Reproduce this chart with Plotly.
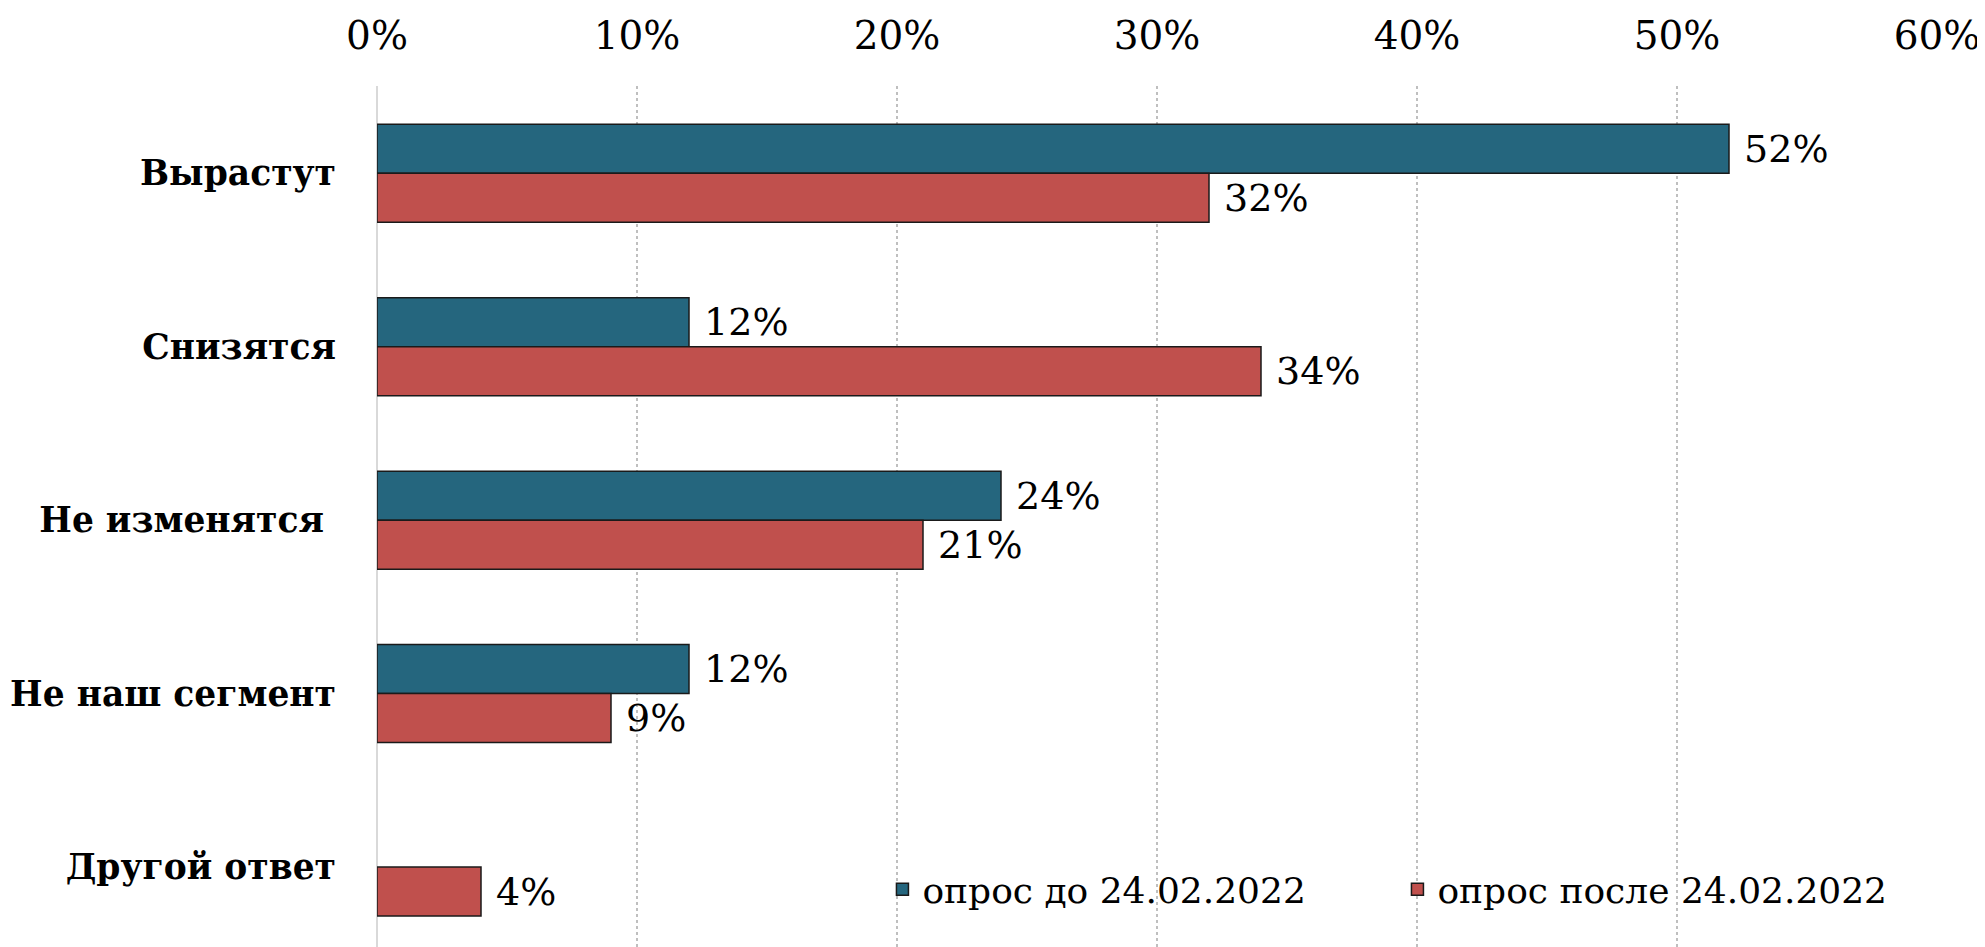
import plotly.graph_objects as go

categories = ["Вырастут", "Снизятся", "Не изменятся\u00a0", "Не наш сегмент", "Другой ответ"]
before = [0.52, 0.12, 0.24, 0.12, None]
after = [0.32, 0.34, 0.21, 0.09, 0.04]
series_names = ["опрос до 24.02.2022", "опрос после 24.02.2022"]
x_ticks = [0, 0.1, 0.2, 0.3, 0.4, 0.5, 0.6]

FONT = "DejaVu Serif"
BLUE = "#25667e"
RED = "#c0504d"

fig = go.Figure()
for name, vals, color in [(series_names[0], before, BLUE), (series_names[1], after, RED)]:
    fig.add_trace(go.Bar(
        y=categories,
        x=vals,
        name=name,
        orientation="h",
        marker=dict(color=color, line=dict(color="#1a1a1a", width=1.5)),
        texttemplate="\u00a0%{x:.0%}",
        textposition="outside",
        cliponaxis=False,
        textfont=dict(family=FONT, size=38, color="black"),
    ))

# page body has an 8px margin, so the figure is offset by 8px
fig.update_layout(
    width=1977,
    height=939,
    margin=dict(l=369, r=48, t=78, b=0),
    paper_bgcolor="white",
    plot_bgcolor="white",
    barmode="group",
    bargap=0.435,
    bargroupgap=0,
    font=dict(family=FONT, color="black"),
    legend=dict(
        orientation="h",
        x=0.324,
        y=0.067,
        xanchor="left",
        yanchor="middle",
        entrywidth=470,
        font=dict(family=FONT, size=36, color="black"),
        bgcolor="rgba(0,0,0,0)",
        traceorder="normal",
    ),
    xaxis=dict(
        side="top",
        range=[0, 0.6],
        tickvals=x_ticks,
        tickformat=".0%",
        tickfont=dict(family=FONT, size=39, color="black"),
        showgrid=True,
        gridcolor="#bfbfbf",
        griddash="dot",
        gridwidth=2,
        zeroline=True,
        zerolinecolor="#d9d9d9",
        zerolinewidth=2,
        ticks="",
        ticklabelstandoff=28,
        showline=False,
    ),
    yaxis=dict(
        type="category",
        range=[4.461, -0.503],
        tickfont=dict(family=FONT, size=34.5, color="black", weight="bold"),
        ticks="",
        ticklabelstandoff=40,
        showgrid=False,
        showline=False,
    ),
)

fig.write_html("out.html")
